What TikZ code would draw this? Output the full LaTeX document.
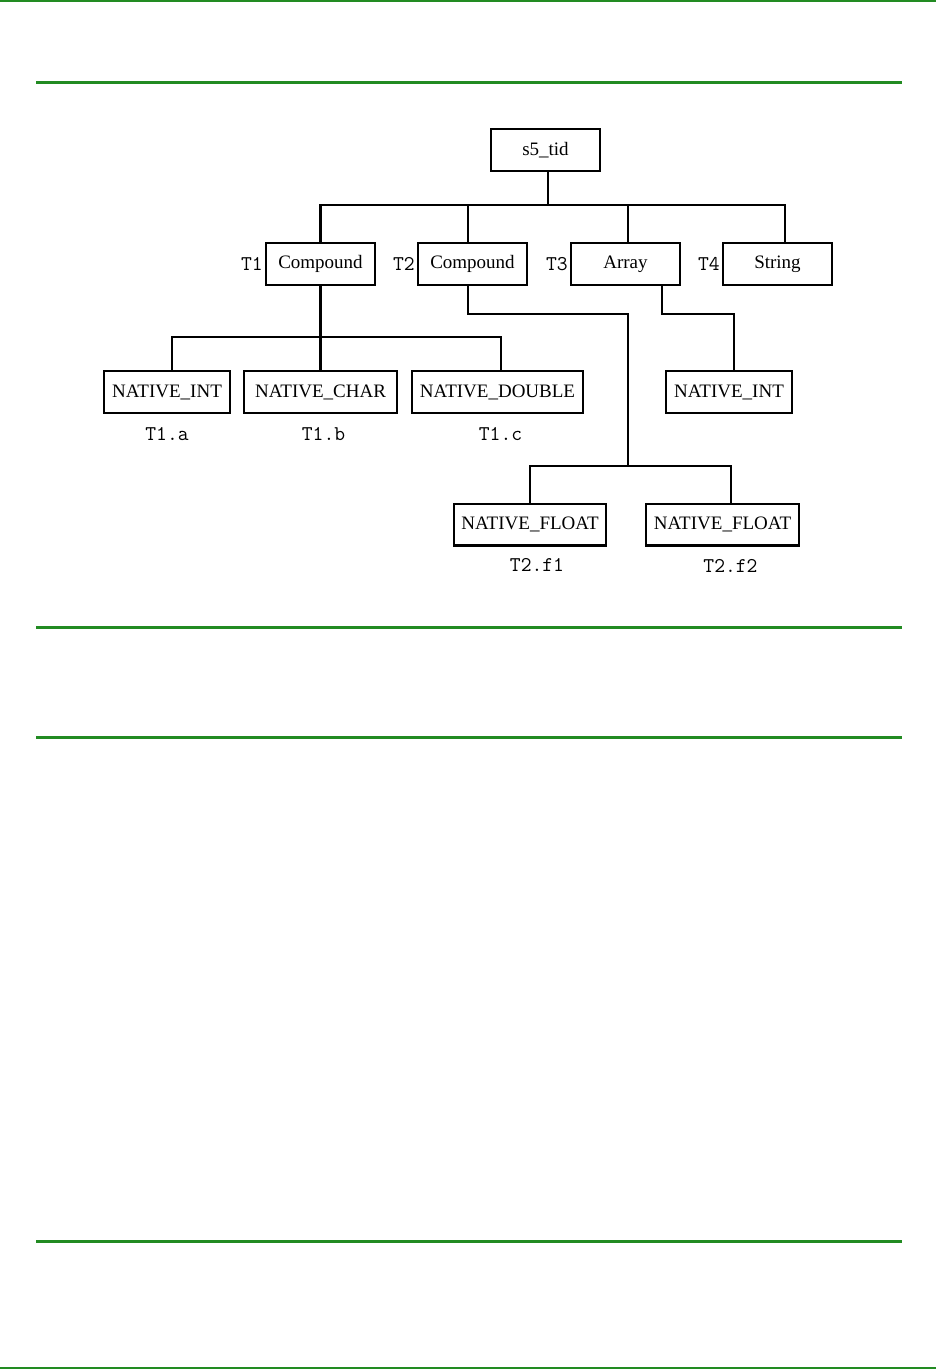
\documentclass[tikz,border=0pt]{standalone}
\usepackage{tikz}
\usepackage{xcolor}
\usepackage{fontspec}
\setmainfont{Liberation Serif}
\usetikzlibrary{positioning}
\definecolor{rulegreen}{RGB}{34,139,34}
\tikzset{
    box/.style={draw, line width=2.4pt, minimum height=41.6pt, inner sep=0pt,
        font=\rmfamily\fontsize{19}{21}\selectfont},
    wire/.style={line width=2.4pt},
    tag/.style={inner sep=0pt, font=\ttfamily\fontsize{21}{23}\selectfont},
    rule/.style={rulegreen, line width=3pt}
}

\begin{document}
\begin{tikzpicture}[x=1pt, y=-1pt]
    \useasboundingbox (0, 0) rectangle (936, 1369);
    % page rules
    \draw [rulegreen, line width=2pt] (0, 1) -- (936, 1);
    \draw [rule] (36, 82) -- (902, 82);
    \draw [rule] (36, 627) -- (902, 627);
    \draw [rule] (36, 737) -- (902, 737);
    \draw [rule] (36, 1241) -- (902, 1241);
    \draw [rulegreen, line width=2pt] (0, 1367.5) -- (936, 1367.5);
    % root and its members
    \path (545.5, 150) node [box, minimum width=108.6pt] (root) {s5\_tid};
    \path (320.5, 264) node [box, minimum width=108.6pt] (cmp1) {Compound};
    \path (472.5, 264) node [box, minimum width=108.6pt] (cmp2) {Compound};
    \path (625.5, 264) node [box, minimum width=108.6pt] (arr) {Array};
    \path (777.5, 264) node [box, minimum width=108.6pt] (str) {String};
    \path (cmp1.west) node [tag, left=2pt] (t1) {T1};
    \path (cmp2.west) node [tag, left=2pt] (t2) {T2};
    \path (arr.west) node [tag, left=2pt] (t3) {T3};
    \path (str.west) node [tag, left=2pt] (t4) {T4};
    \draw [wire] ([xshift=2.5pt]root.south) -- ++(0, 33) -| (cmp1.north);
    \draw [wire] ([xshift=2.5pt]root.south) -- ++(0, 33) -| ([xshift=-4.5pt]cmp2.north);
    \draw [wire] ([xshift=2.5pt]root.south) -- ++(0, 33) -| ([xshift=2.5pt]arr.north);
    \draw [wire] ([xshift=2.5pt]root.south) -- ++(0, 33) -| ([xshift=7.5pt]str.north);
    % fields of T1
    \path (167, 392) node [box, minimum width=125.6pt] (nint) {NATIVE\_INT};
    \path (320.5, 392) node [box, minimum width=152.6pt] (nchar) {NATIVE\_CHAR};
    \path (497.5, 392) node [box, minimum width=170.6pt] (ndbl) {NATIVE\_DOUBLE};
    \draw [wire] (cmp1.south) -- ++(0, 51) -| ([xshift=5pt]nint.north);
    \draw [wire] (cmp1.south) -- ++(0, 51) -| (nchar.north);
    \draw [wire] (cmp1.south) -- ++(0, 51) -| ([xshift=3.5pt]ndbl.north);
    \path (nint.south) node [tag, below=13pt] (ta) {T1.a};
    \path ([xshift=3pt]nchar.south) node [tag, below=13pt] (tb) {T1.b};
    \path ([xshift=3pt]ndbl.south) node [tag, below=13pt] (tc) {T1.c};
    % element of T3
    \path (729, 392) node [box, minimum width=125.6pt] (nint2) {NATIVE\_INT};
    \draw [wire] ([xshift=36.5pt]arr.south) |- ++(72, 28) -| ([xshift=5pt]nint2.north);
    % fields of T2
    \path (530, 524.5) node [box, minimum width=151.6pt] (flt1) {NATIVE\_FLOAT};
    \path (722.5, 524.5) node [box, minimum width=152.6pt] (flt2) {NATIVE\_FLOAT};
    \coordinate (fork) at (628, 466);
    \draw [wire] ([xshift=-4.5pt]cmp2.south) -- ++(0, 28) -| (fork) -| (flt1.north);
    \draw [wire] (fork) -| ([xshift=8.5pt]flt2.north);
    \path ([xshift=7pt]flt1.south) node [tag, below=12pt] (tf1) {T2.f1};
    \path ([xshift=8pt]flt2.south) node [tag, below=13pt] (tf2) {T2.f2};
\end{tikzpicture}
\end{document}
